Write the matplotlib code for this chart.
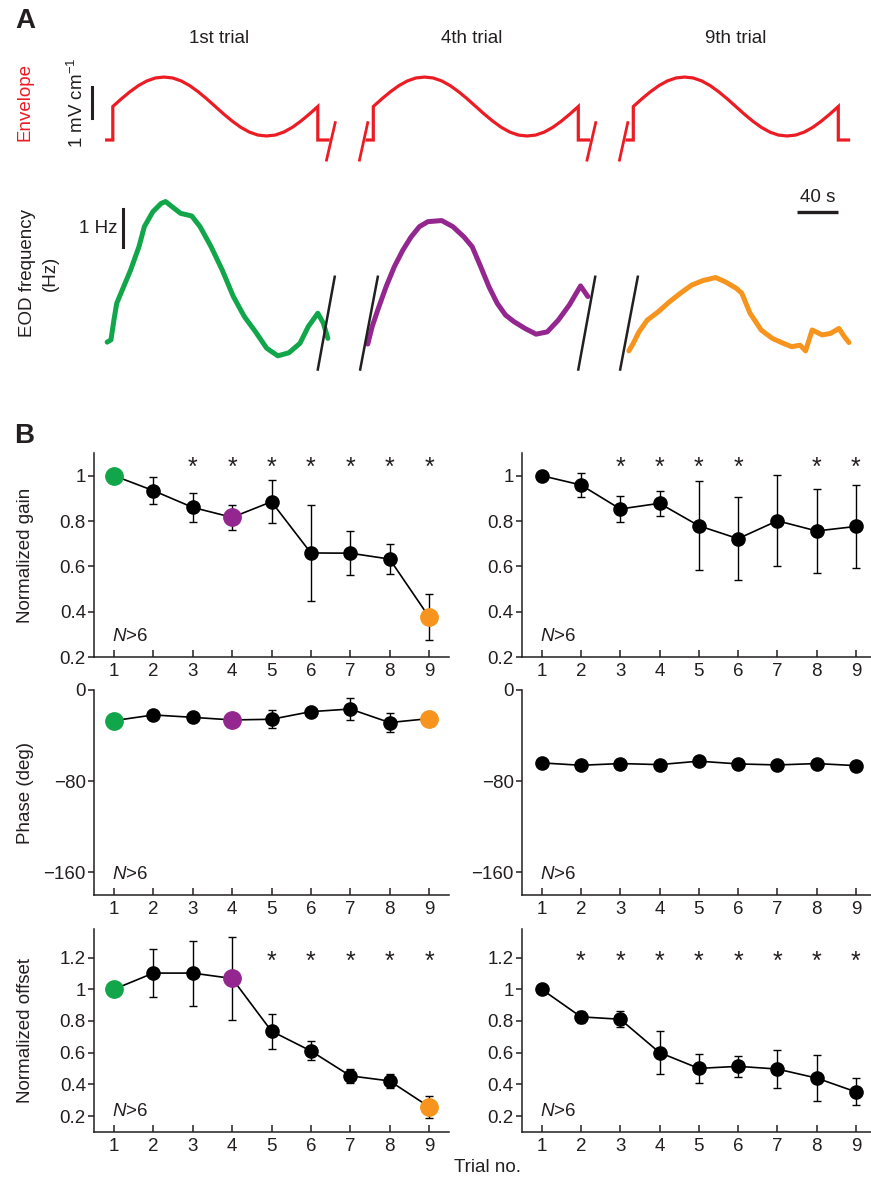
import numpy as np
import matplotlib
matplotlib.use("Agg")
from matplotlib import pyplot as plt

plt.rcParams["font.family"] = ["Liberation Sans", "DejaVu Sans"]
plt.rcParams["mathtext.fontset"] = "custom"
plt.rcParams["mathtext.rm"] = "Liberation Sans"
plt.rcParams["mathtext.it"] = "Liberation Sans:italic"

INK = "#231F20"
RED = "#EC1C24"
GREEN = "#12A64B"
PURPLE = "#93278F"
ORANGE = "#F7941D"
FS = 13.5

# ---- panel A data: stimulus envelope (one period, read at 15 deg steps) ----
env_shape = [0, 0.26, 0.5, 0.71, 0.87, 0.97, 1.0, 0.97, 0.87, 0.71, 0.5, 0.26,
             0, -0.26, -0.5, -0.71, -0.87, -0.97, -1.0, -0.97, -0.87, -0.71,
             -0.5, -0.26, 0]
env_mean = 1.08      # mV/cm above pre-stimulus level
env_amp = 0.95       # mV/cm
env_period = 200     # s
env_pre, env_post = -6, 210

trial_names = ["1st trial", "4th trial", "9th trial"]
trial_colors = [GREEN, PURPLE, ORANGE]

# EOD frequency traces (time in s from stimulus onset, frequency in Hz)
eod_t1 = [-5.5, -1.8, 1.1, 3.8, 9.2, 17.4, 25.5, 30.8, 39.0, 47.1, 51.5, 58.0,
          66.1, 77.0, 85.1, 95.9, 106.7, 117.6, 128.4, 139.3, 150.1, 161.0,
          171.8, 182.6, 190.7, 200.0, 205.4, 209.8]
eod_f1 = [0.47, 0.53, 1.05, 1.49, 1.84, 2.37, 2.98, 3.51, 3.90, 4.12, 4.17, 4.03,
          3.86, 3.79, 3.51, 2.98, 2.37, 1.67, 1.14, 0.74, 0.31, 0.11,
          0.19, 0.44, 0.88, 1.23, 0.97, 0.57]
eod_t4 = [-5.4, -1.1, 4.4, 12.5, 20.6, 28.8, 36.9, 45.0, 53.2, 66.7, 77.6, 88.4,
          96.5, 104.7, 112.8, 120.9, 129.1, 137.2, 148.0, 158.8, 169.7, 180.5,
          191.3, 202.2, 209.3]
eod_f4 = [0.42, 0.88, 1.32, 1.93, 2.46, 2.89, 3.24, 3.51, 3.64, 3.67, 3.51, 3.24,
          2.98, 2.46, 1.93, 1.49, 1.18, 1.01, 0.83, 0.68, 0.74, 1.05,
          1.45, 1.95, 1.67]
eod_t9 = [-4.3, 0.0, 5.5, 13.6, 24.4, 35.2, 46.1, 56.9, 67.8, 80.3, 89.5, 100.3,
          105.8, 113.9, 124.7, 135.5, 146.3, 154.5, 162.6, 168.1, 174.5, 184.3,
          192.5, 200.6, 206.0, 210.4]
eod_f9 = [0.24, 0.44, 0.74, 1.05, 1.27, 1.53, 1.76, 1.97, 2.09, 2.17, 2.06, 1.89,
          1.76, 1.23, 0.79, 0.57, 0.44, 0.35, 0.39, 0.24, 0.79, 0.66,
          0.70, 0.83, 0.61, 0.46]
eod_t = [eod_t1, eod_t4, eod_t9]
eod_f = [eod_f1, eod_f4, eod_f9]

# ---- panel B data ----
trials = np.arange(1, 10)
gain_a = [1.0, 0.934, 0.860, 0.816, 0.885, 0.659, 0.658, 0.632, 0.377]
gain_a_err = [0, 0.06, 0.065, 0.055, 0.095, 0.21, 0.097, 0.066, 0.10]
gain_b = [1.0, 0.959, 0.853, 0.878, 0.779, 0.722, 0.801, 0.756, 0.776]
gain_b_err = [0, 0.052, 0.056, 0.054, 0.197, 0.183, 0.2, 0.185, 0.182]
phase_a = [-26.9, -21.9, -24.0, -26.3, -25.7, -19.0, -16.7, -28.6, -25.1]
phase_a_err = [0, 0, 0, 0, 8, 2, 9.5, 8.5, 0]
phase_b = [-64.0, -66.1, -64.6, -65.5, -62.5, -64.9, -65.8, -64.6, -66.4]
phase_b_err = [0, 0, 0, 0, 0, 0, 0, 0, 0]
offset_a = [1.0, 1.102, 1.102, 1.068, 0.736, 0.611, 0.454, 0.422, 0.259]
offset_a_err = [0, 0.153, 0.205, 0.26, 0.11, 0.06, 0.045, 0.043, 0.07]
offset_b = [1.0, 0.826, 0.811, 0.601, 0.501, 0.514, 0.497, 0.44, 0.353]
offset_b_err = [0, 0.038, 0.049, 0.136, 0.092, 0.066, 0.118, 0.145, 0.085]
gain_a_sig = [3, 4, 5, 6, 7, 8, 9]
gain_b_sig = [3, 4, 5, 6, 8, 9]
offset_a_sig = [5, 6, 7, 8, 9]
offset_b_sig = [2, 3, 4, 5, 6, 7, 8, 9]
highlight = {1: GREEN, 4: PURPLE, 9: ORANGE}

W, H = 871, 1188
fig = plt.figure(figsize=(W / 100, H / 100), dpi=100)


def fx(px):
    return px / W


def fy(py):
    return 1 - py / H


def px_axes(x0, y0, x1, y1):
    return fig.add_axes([fx(x0), fy(y1), (x1 - x0) / W, (y1 - y0) / H])


# ---------------- panel A ----------------
onsets = [112.8, 373.3, 633.3]   # pixel of stimulus onset per column
px_per_s = 1.025
t_lim = (-20, 220)
env_t = np.linspace(0, env_period, len(env_shape))
env_y = env_mean + env_amp * np.array(env_shape)
env_tt = np.concatenate([[env_pre, 0], env_t, [env_period, env_post]])
env_yy = np.concatenate([[0, 0], env_y, [0, 0]])

for i in range(3):
    x0 = onsets[i] + t_lim[0] * px_per_s
    x1 = onsets[i] + t_lim[1] * px_per_s
    ax_e = px_axes(x0, 60, x1, 165)
    ax_e.set_xlim(t_lim)
    ax_e.set_ylim(-25 / 31, 80 / 31)
    ax_e.axis("off")
    ax_e.plot(env_tt, env_yy, color=RED, lw=2.3, solid_joinstyle="miter")

    ax_f = px_axes(x0, 190, x1, 375)
    ax_f.set_xlim(t_lim)
    ax_f.set_ylim(-15 / 38, 170 / 38)
    ax_f.axis("off")
    ax_f.plot(eod_t[i], eod_f[i], color=trial_colors[i], lw=3.6,
              solid_joinstyle="round", solid_capstyle="round")

    # axis-break slashes
    if i < 2:
        ax_e.plot([208.5, 217], [-0.65, 0.56], color=RED, lw=2.0, clip_on=False)
        ax_f.plot([200, 216.5], [-0.25, 2.19], color=INK, lw=1.8, clip_on=False)
    if i > 0:
        ax_e.plot([-13.5, -5.4], [-0.65, 0.56], color=RED, lw=2.0, clip_on=False)
        ax_f.plot([-12.8, 4.4], [-0.25, 2.19], color=INK, lw=1.8, clip_on=False)

    fig.text(fx([219.4, 472, 736][i]), fy(38.5), trial_names[i], fontsize=FS,
             ha="center", va="center", color=INK)

    if i == 0:
        ax_e.plot([-20.6, -20.6], [0.7, 1.7], color=INK, lw=2.2, clip_on=False)
        ax_f.plot([10.2, 10.2], [2.97, 3.97], color=INK, lw=2.2, clip_on=False)
        ax_f.text(4.5, 3.47, "1 Hz", fontsize=FS, ha="right", va="center",
                  color=INK)
    if i == 2:
        ax_f.plot([159.7, 199.7], [3.89, 3.89], color=INK, lw=2.4,
                  solid_capstyle="butt", clip_on=False)
        ax_f.text(179.7, 4.05, "40 s", fontsize=FS, ha="center", va="bottom",
                  color=INK)

fig.text(fx(25), fy(102), "Envelope", color=RED, fontsize=FS, rotation=90,
         ha="center", va="center")
fig.text(fx(77), fy(103), r"1 mV cm$^{-1}$", color=INK, fontsize=FS,
         rotation=90, ha="center", va="center")
fig.text(fx(39), fy(273), "EOD frequency\n(Hz)", color=INK, fontsize=FS,
         rotation=90, ha="center", va="center", linespacing=1.45)
fig.text(fx(25), fy(21), "A", fontsize=20, fontweight="bold", ha="center",
         va="center", color=INK)
fig.text(fx(24), fy(436), "B", fontsize=20, fontweight="bold", ha="center",
         va="center", color=INK)

# ---------------- panel B ----------------
rows = [
    (453, 657, (0.2, 1.1), [0.2, 0.4, 0.6, 0.8, 1.0],
     ["0.2", "0.4", "0.6", "0.8", "1"], "Normalized gain",
     (gain_a, gain_a_err, gain_a_sig), (gain_b, gain_b_err, gain_b_sig), 1.036),
    (690, 895, (-180, 0), [-160, -80, 0], ["\u2212160", "\u221280", "0"],
     "Phase (deg)", (phase_a, phase_a_err, []), (phase_b, phase_b_err, []), None),
    (929, 1132, (0.1, 1.38), [0.2, 0.4, 0.6, 0.8, 1.0, 1.2],
     ["0.2", "0.4", "0.6", "0.8", "1", "1.2"], "Normalized offset",
     (offset_a, offset_a_err, offset_a_sig),
     (offset_b, offset_b_err, offset_b_sig), 1.17),
]
cols = [(94.3, 448.7), (522, 875.6)]

for top, bot, ylim, yt, ytl, ylab, left_d, right_d, star_y in rows:
    for c, (vals, errs, sig) in enumerate([left_d, right_d]):
        ax = px_axes(cols[c][0], top, cols[c][1], bot)
        ax.set_xlim(0.5, 9.5)
        ax.set_ylim(ylim)
        for s in ("top", "right"):
            ax.spines[s].set_visible(False)
        for s in ("left", "bottom"):
            ax.spines[s].set_linewidth(1.1)
            ax.spines[s].set_color(INK)
        ax.set_xticks(trials)
        ax.set_yticks(yt)
        ax.set_yticklabels(ytl)
        ax.tick_params(axis="x", direction="in", length=5, width=1.1,
                       labelsize=FS, pad=4, colors=INK)
        ax.tick_params(axis="y", direction="out", length=4, width=1.1,
                       labelsize=FS, pad=2, colors=INK)
        ax.errorbar(trials, vals, yerr=errs, color="black", lw=1.2,
                    elinewidth=1.0, capsize=3, capthick=1.0, marker="o",
                    ms=9.5, mec="black", mfc="black", zorder=3)
        if c == 0:
            for k, col in highlight.items():
                ax.plot(trials[k - 1], vals[k - 1], "o", ms=12.5, color=col,
                        mec=col, zorder=5)
        for k in sig:
            ax.text(k, star_y, "*", fontsize=18, ha="center", va="center",
                    color=INK)
        ax.text(0.05, 0.1, r"$\it{N}$>6", transform=ax.transAxes,
                fontsize=FS, ha="left", va="center", color=INK)
    fig.text(fx(25), fy((top + bot) / 2), ylab, fontsize=FS, rotation=90,
             ha="center", va="center", color=INK)

fig.text(fx(487), fy(1168), "Trial no.", fontsize=FS, ha="center",
         va="center", color=INK)

fig.savefig("out.png", dpi=100)
